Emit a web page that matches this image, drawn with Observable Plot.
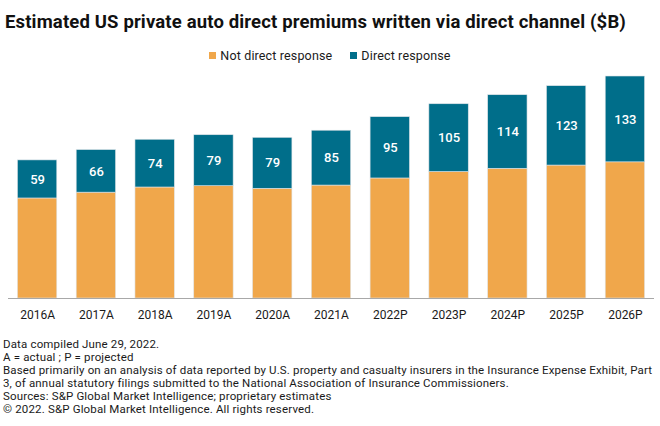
<!DOCTYPE html>
<html>
<head>
<meta charset="utf-8">
<script src="https://cdn.jsdelivr.net/npm/d3@7"></script>
<script src="https://cdn.jsdelivr.net/npm/@observablehq/plot@0.6"></script>
<style>
  html, body { margin: 0; padding: 0; background: #fff; }
  body { width: 660px; height: 426px; position: relative; font-family: Roboto, "Liberation Sans", sans-serif; color: #1a1a1a; overflow: hidden; }
  #title { position: absolute; left: 5px; top: 11px; font-size: 18.5px; letter-spacing: 0.15px; font-weight: 700; line-height: 22px; white-space: nowrap; color: #111; }
  #legend { position: absolute; left: 0; width: 660px; top: 47px; height: 16px; display: flex; justify-content: center; align-items: center; font-size: 12.5px; letter-spacing: 0.15px; }
  #legend .item { display: flex; align-items: center; margin: 0 9px; }
  #legend .sw { width: 7px; height: 7px; margin-right: 4px; }
  #chart { position: absolute; left: 0; top: 66px; }
  #footer { position: absolute; left: 3px; top: 338px; font-size: 11.5px; letter-spacing: 0.16px; line-height: 13.1px; white-space: nowrap; color: #1a1a1a; }
</style>
</head>
<body>
<div id="title">Estimated US private auto direct premiums written via direct channel ($B)</div>
<div id="legend"></div>
<div id="chart"></div>
<div id="footer">
Data compiled June 29, 2022.<br>
A = actual ; P = projected<br>
Based primarily on an analysis of data reported by U.S. property and casualty insurers in the Insurance Expense Exhibit, Part<br>
3, of annual statutory filings submitted to the National Association of Insurance Commissioners.<br>
Sources: S&amp;P Global Market Intelligence; proprietary estimates<br>
© 2022. S&amp;P Global Market Intelligence. All rights reserved.
</div>
<script>
const years = ["2016A","2017A","2018A","2019A","2020A","2021A","2022P","2023P","2024P","2025P","2026P"];
const notDirect = [155, 164, 172, 174, 170, 175, 186, 196, 201, 206, 211];
const direct = [59, 66, 74, 79, 79, 85, 95, 105, 114, 123, 133];
const seriesNames = ["Not direct response", "Direct response"];
const seriesColors = ["#F0A74B", "#006E8A"];

const rows = [];
years.forEach((y, i) => {
  rows.push({year: y, series: seriesNames[0], value: notDirect[i]});
  rows.push({year: y, series: seriesNames[1], value: direct[i]});
});

const plot = Plot.plot({
  width: 660,
  height: 262,
  marginLeft: 8,
  marginRight: 6,
  marginTop: 10,
  marginBottom: 30,
  style: {fontFamily: "Roboto, 'Liberation Sans', sans-serif", fontSize: "12px", color: "#1a1a1a", background: "transparent"},
  x: {domain: years, paddingInner: 0.33, paddingOuter: 0.16, round: false, label: null, tickSize: 0, tickPadding: 12},
  y: {domain: [0, 344], axis: null},
  color: {domain: seriesNames, range: seriesColors},
  marks: [
    Plot.barY(rows, {x: "year", y: "value", z: "series", fill: "series", stroke: "#dfe4e8", strokeWidth: 0.6}),
    Plot.ruleY([0], {stroke: "#a8a8a8", strokeWidth: 1.2}),
    Plot.text(rows, Plot.stackY({x: "year", y: "value", z: "series",
      text: d => d.series === "Direct response" ? String(d.value) : null,
      fill: "white", fontSize: 13, fontWeight: 500}))
  ]
});
document.getElementById("chart").appendChild(plot);

const leg = document.getElementById("legend");
seriesNames.forEach((name, i) => {
  const item = document.createElement("div");
  item.className = "item";
  const sw = document.createElement("div");
  sw.className = "sw";
  sw.style.background = plot.scale("color").apply(name);
  const t = document.createElement("span");
  t.textContent = name;
  item.appendChild(sw); item.appendChild(t);
  leg.appendChild(item);
});
</script>
</body>
</html>
